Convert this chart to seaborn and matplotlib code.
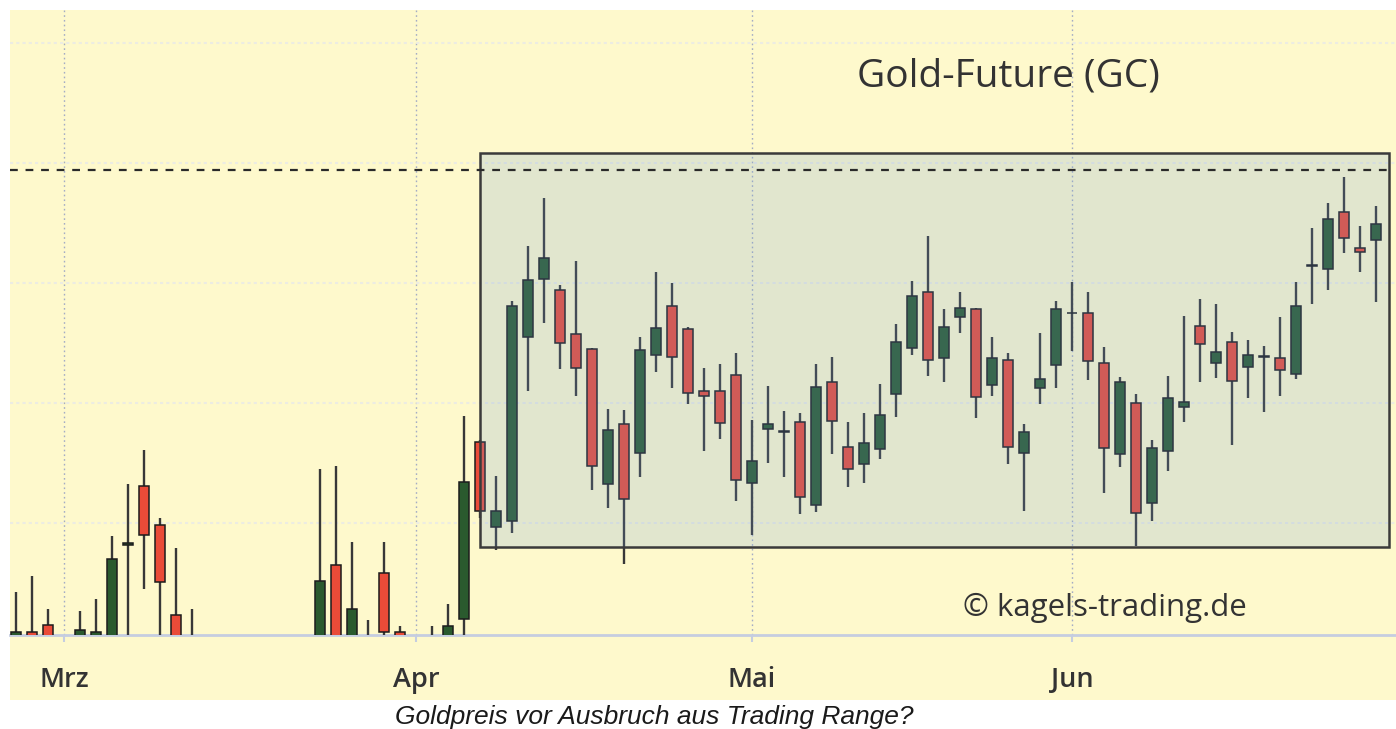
import numpy as np
import pandas as pd
import matplotlib
matplotlib.use("Agg")
import matplotlib.pyplot as plt
from matplotlib.patches import Rectangle
import seaborn as sns

# ---------------- data ----------------
trade_days = pd.bdate_range("2020-02-26", "2020-06-26")
trade_days = trade_days.drop(pd.to_datetime(["2020-04-10", "2020-05-25"]))

open_ = [1590, 1604.5, 1607.5, 1590, 1590, 1598, 1600, 1641.0, 1665.4, 1649.2,
         1611.7, 1600, 1580, 1540, 1520, 1530, 1480, 1490, 1500, 1580,
         1632.5, 1598, 1600, 1629.2, 1604.6, 1590, 1598, 1598, 1610.0, 1683.8,
         1648.3, 1650.8, 1727.5, 1751.7, 1747.1, 1728.8, 1722.5, 1666.3, 1691.3, 1679.2,
         1720.2, 1740.4, 1730.8, 1705.0, 1705.0, 1711.7, 1666.7, 1689.2, 1688.1, 1692.1,
         1657.5, 1708.8, 1681.7, 1674.6, 1680.8, 1703.8, 1722.9, 1746.3, 1718.8, 1735.8,
         1739.2, 1707.5, 1717.9, 1679.2, 1706.3, 1715.8, 1737.3, 1737.5, 1716.7, 1678.8,
         1700.0, 1658.3, 1680.0, 1698.3, 1732.1, 1716.7, 1725.4, 1715.0, 1719.0, 1718.8,
         1712.1, 1756.9, 1755.8, 1779.6, 1764.6, 1767.9]
high = [1621.3, 1627.9, 1614.2, 1600, 1613.3, 1618.3, 1644.6, 1666.3, 1680.4, 1652.1,
        1639.6, 1614.2, 1595, 1570, 1550, 1560, 1500, 1540, 1580, 1672.5,
        1673.8, 1642.1, 1609.6, 1642.1, 1607.1, 1600, 1607.1, 1616.3, 1694.6, 1684.5,
        1669.6, 1742.5, 1765.4, 1785.4, 1749.2, 1759.2, 1722.9, 1697.5, 1697.1, 1727.5,
        1754.6, 1750.0, 1731.7, 1714.6, 1716.3, 1720.8, 1692.9, 1707.1, 1696.7, 1695.8,
        1716.3, 1719.2, 1692.1, 1695.8, 1707.9, 1732.9, 1750.8, 1769.6, 1739.2, 1746.3,
        1739.6, 1727.5, 1720.8, 1691.3, 1729.2, 1742.5, 1750.4, 1746.3, 1723.3, 1710.8,
        1703.8, 1684.6, 1711.3, 1736.3, 1743.3, 1741.3, 1729.6, 1726.3, 1723.8, 1735.8,
        1750.4, 1772.9, 1783.3, 1794.2, 1773.8, 1782.1]
low = [1580, 1585, 1570, 1575, 1585, 1592, 1596, 1598, 1622.5, 1598,
       1590, 1565, 1540, 1500, 1480, 1470, 1460, 1480, 1490, 1575,
       1585, 1590, 1585, 1598, 1585, 1580, 1592, 1594, 1600, 1652,
       1638.8, 1645.8, 1705.0, 1733.3, 1714.2, 1702.9, 1663.8, 1656.3, 1632.9, 1669.2,
       1712.9, 1706.3, 1699.6, 1680.0, 1685.0, 1659.2, 1645.0, 1675.0, 1669.2, 1653.8,
       1654.6, 1678.8, 1665.0, 1666.7, 1676.7, 1694.2, 1720.0, 1711.3, 1708.8, 1729.2,
       1693.8, 1702.9, 1674.6, 1655.0, 1699.6, 1706.3, 1721.7, 1709.6, 1662.5, 1673.3,
       1640.4, 1650.8, 1671.7, 1692.1, 1708.8, 1710.4, 1682.5, 1702.1, 1696.3, 1702.9,
       1710.0, 1741.3, 1747.1, 1762.5, 1754.6, 1742.1]
close = [1604.5, 1592, 1580, 1595, 1605.4, 1604.5, 1635.0, 1641.6, 1645.0, 1625.4,
         1596, 1575, 1545, 1520, 1530, 1480, 1490, 1500, 1570, 1625.8,
         1595, 1614.2, 1595, 1604.6, 1590, 1595, 1602, 1607.1, 1667.1, 1655.0,
         1655.0, 1740.4, 1751.3, 1760.4, 1725.0, 1714.6, 1673.8, 1688.8, 1660.0, 1722.1,
         1731.3, 1719.2, 1704.2, 1702.9, 1691.7, 1667.9, 1675.8, 1691.3, 1688.5, 1660.8,
         1706.7, 1692.5, 1672.5, 1683.3, 1695.0, 1725.4, 1744.6, 1717.9, 1731.7, 1739.6,
         1702.5, 1718.8, 1681.7, 1687.9, 1710.0, 1739.2, 1737.7, 1717.5, 1681.3, 1708.8,
         1654.2, 1681.3, 1702.1, 1700.4, 1724.6, 1721.3, 1709.2, 1719.8, 1719.4, 1713.8,
         1740.4, 1757.3, 1776.7, 1768.8, 1762.9, 1774.6]

month_labels = ["Mrz", "Apr", "Mai", "Jun"]
grid_levels = [1650, 1700, 1750, 1800, 1850]
range_start = "2020-04-07"
range_top = 1804
range_bottom = 1640
resistance = 1797
title = "Gold-Future (GC)"
watermark = "\u00a9 kagels-trading.de"
caption = "Goldpreis vor Ausbruch aus Trading Range?"

# ---------------- style ----------------
sns.set_theme(style="white")
plt.rcParams["font.family"] = ["Open Sans", "DejaVu Sans"]

YELLOW = "#fef9cc"
GREEN = "#2a5a2e"
RED = "#ea4b38"
WICK = "#383838"
EDGE = "#1c1c1c"
TXT = "#333333"

W, H = 1396, 729
fig = plt.figure(figsize=(W / 100, H / 100), dpi=100, facecolor="white")
ax = fig.add_axes([10 / W, (H - 635) / H, 1386 / W, 625 / H])
ax.set_facecolor(YELLOW)

# label band below the axis
fig.patches.append(Rectangle((10 / W, (H - 700) / H), 1386 / W, 65 / H,
                             transform=fig.transFigure, facecolor=YELLOW,
                             edgecolor="none", zorder=-1))

x = np.arange(len(trade_days))
o = np.array(open_)
c = np.array(close)
hi = np.array(high)
lo = np.array(low)
up = c >= o
colors = np.where(up, GREEN, RED)

ax.vlines(x, lo, hi, color=WICK, lw=1.7, zorder=3)
ax.bar(x, np.maximum(np.abs(c - o), 0.35), bottom=np.minimum(o, c), width=0.68,
       color=colors, edgecolor=EDGE, linewidth=1.1, zorder=4)

# trading range box
x_start = int(np.where(trade_days == pd.Timestamp(range_start))[0][0])
x_end = x[-1] + 0.8
ax.add_patch(Rectangle((x_start, range_bottom), x_end - x_start, range_top - range_bottom,
                       facecolor=(113 / 255, 158 / 255, 215 / 255, 0.2),
                       edgecolor="#3a3a3a", linewidth=1.8, zorder=5))
ax.hlines(resistance, -0.375, x_end, colors="#2a2a2a", linewidth=1.6,
          linestyles=(0, (3.5, 3.5)), zorder=6)

# axes
ax.set_xlim(-0.375, 86.25)
ax.set_ylim(1603.33, 1863.75)
month_pos = [int(np.argmax(trade_days.month == m)) for m in [3, 4, 5, 6]]
ax.set_xticks(month_pos)
ax.set_xticklabels(month_labels, fontsize=19.5, color=TXT, fontweight="semibold")
ax.set_yticks(grid_levels)
ax.set_yticklabels([])
ax.tick_params(axis="x", length=5, width=1.5, color="#c5cde0", pad=17, bottom=True)
ax.tick_params(axis="y", length=0)
ax.xaxis.grid(True, color="#a4acc4", linestyle=(0, (1.2, 2.2)), linewidth=1.0, zorder=0)
ax.yaxis.grid(True, color="#ecece2", linestyle=(0, (1.5, 1.5)), linewidth=1.5, zorder=0)
ax.set_axisbelow(True)
sns.despine(ax=ax, left=True, top=True, right=True)
ax.spines["bottom"].set_color("#c5cde0")
ax.spines["bottom"].set_linewidth(2)

fig.text(1008 / W, 1 - 77 / H, title, fontsize=28, color=TXT, ha="center", va="center")
fig.text(1105 / W, 1 - 608 / H, watermark, fontsize=22.5, color=TXT, ha="center", va="center")
fig.text(654 / W, 1 - 717 / H, caption, fontsize=19, color="#1a1a1a", ha="center",
         va="center", style="italic", family=["Liberation Sans", "DejaVu Sans"])

fig.savefig("out.png", dpi=100, facecolor="white")
